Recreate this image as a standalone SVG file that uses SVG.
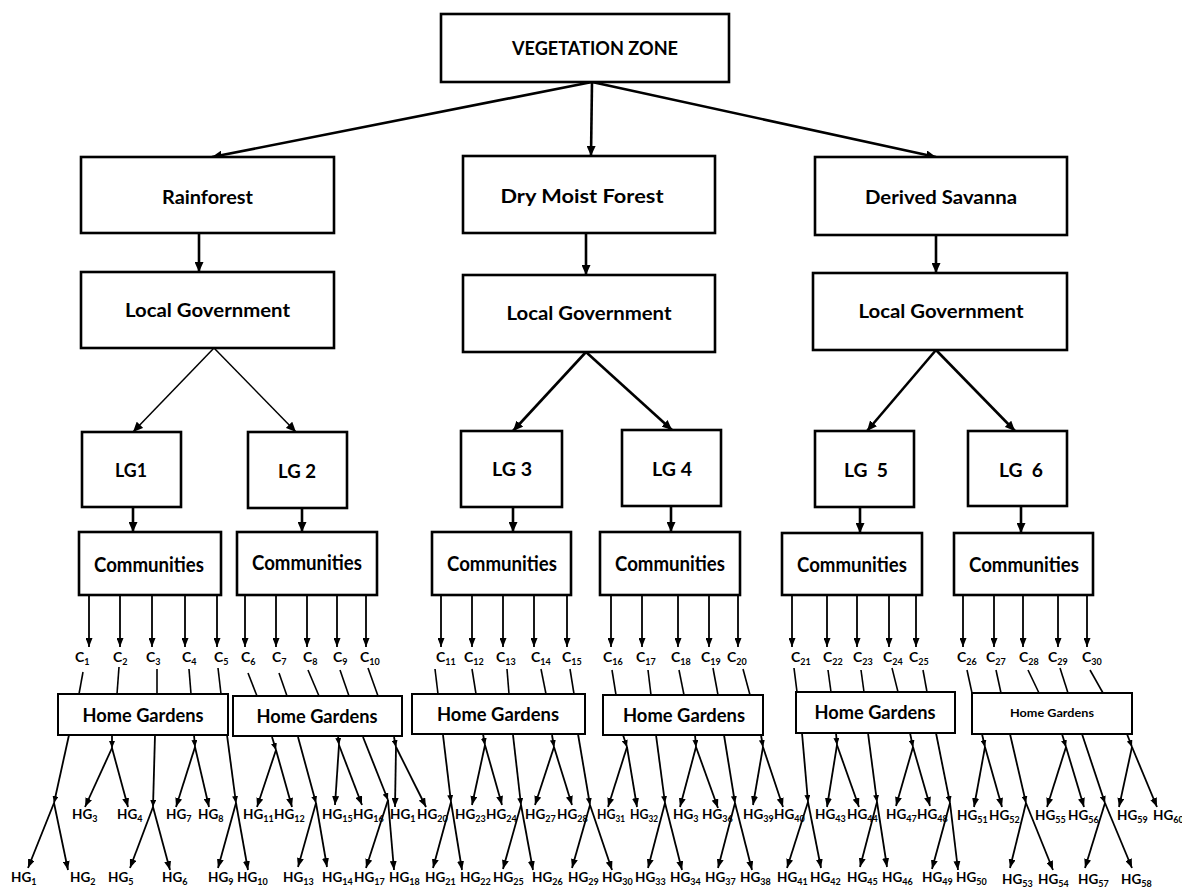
<svg xmlns="http://www.w3.org/2000/svg" width="1182" height="887" viewBox="0 0 1182 887">
<style>
rect.b{fill:#fff;stroke:#000;stroke-width:2.6}
rect.h{fill:#fff;stroke:#000;stroke-width:2}
text{font-family:Lato,"Open Sans","DejaVu Sans",sans-serif;font-weight:700;fill:#000}
.t{font-size:18px;text-anchor:middle}
.cm{font-size:20px;text-anchor:middle}
.hgb{font-size:19px;text-anchor:middle}
.lb{font-size:13.5px}
.cl{font-size:14px}
.s{font-size:9px}
line{stroke:#000;fill:none}
.k{stroke-width:2.6;marker-end:url(#ah)}
.n{stroke-width:1.5;marker-end:url(#ah)}
.a{stroke-width:1.8;marker-end:url(#as)}
.p{stroke-width:1.6}
.f{stroke-width:1.8;marker-end:url(#af)}
</style>
<defs>
<marker id="ah" markerWidth="10" markerHeight="9" refX="10" refY="4.5" orient="auto" markerUnits="userSpaceOnUse"><path d="M0,0 L10,4.5 L0,9 z" fill="#000"/></marker>
<marker id="as" markerWidth="9" markerHeight="7" refX="9" refY="3.5" orient="auto" markerUnits="userSpaceOnUse"><path d="M0,0 L9,3.5 L0,7 z" fill="#000"/></marker>
<marker id="af" markerWidth="7" markerHeight="6" refX="7" refY="3" orient="auto" markerUnits="userSpaceOnUse"><path d="M0,0 L7,3 L0,6 z" fill="#000"/></marker>
</defs>
<rect width="1182" height="887" fill="#fff"/>

<g id="connectors">
<line class="k" x1="592" y1="82" x2="212" y2="157"/>
<line class="k" x1="592" y1="82" x2="591" y2="156"/>
<line class="k" x1="592" y1="82" x2="936" y2="157"/>
<line class="k" x1="199" y1="233" x2="199" y2="272"/>
<line class="k" x1="586" y1="233" x2="586" y2="275"/>
<line class="k" x1="936" y1="235" x2="936" y2="273"/>
<line class="n" x1="214" y1="348" x2="133" y2="432"/>
<line class="n" x1="214" y1="348" x2="296" y2="432"/>
<line class="k" x1="586" y1="352" x2="513" y2="431"/>
<line class="k" x1="586" y1="352" x2="672" y2="430"/>
<line class="k" x1="936" y1="350" x2="867" y2="431"/>
<line class="k" x1="936" y1="350" x2="1015" y2="431"/>
<line class="k" x1="133" y1="507" x2="133" y2="532"/>
<line class="k" x1="302" y1="508" x2="302" y2="532"/>
<line class="k" x1="513" y1="507" x2="513" y2="532"/>
<line class="k" x1="671" y1="506" x2="671" y2="532"/>
<line class="k" x1="860" y1="507" x2="860" y2="533"/>
<line class="k" x1="1021" y1="506" x2="1021" y2="533"/>
<line class="a" x1="89" y1="596" x2="89" y2="647"/>
<line class="a" x1="120" y1="596" x2="120" y2="647"/>
<line class="a" x1="152" y1="596" x2="152" y2="647"/>
<line class="a" x1="185" y1="596" x2="185" y2="647"/>
<line class="a" x1="217" y1="596" x2="217" y2="647"/>
<line class="a" x1="245" y1="596" x2="245" y2="647"/>
<line class="a" x1="276" y1="596" x2="276" y2="647"/>
<line class="a" x1="307" y1="596" x2="307" y2="647"/>
<line class="a" x1="337" y1="596" x2="337" y2="647"/>
<line class="a" x1="366" y1="596" x2="366" y2="647"/>
<line class="a" x1="441" y1="596" x2="441" y2="647"/>
<line class="a" x1="472" y1="596" x2="472" y2="647"/>
<line class="a" x1="503" y1="596" x2="503" y2="647"/>
<line class="a" x1="534" y1="596" x2="534" y2="647"/>
<line class="a" x1="567" y1="596" x2="567" y2="647"/>
<line class="a" x1="611" y1="596" x2="611" y2="647"/>
<line class="a" x1="642" y1="596" x2="642" y2="647"/>
<line class="a" x1="678" y1="596" x2="678" y2="647"/>
<line class="a" x1="709" y1="596" x2="709" y2="647"/>
<line class="a" x1="738" y1="596" x2="738" y2="647"/>
<line class="a" x1="792" y1="596" x2="792" y2="647"/>
<line class="a" x1="827" y1="596" x2="827" y2="647"/>
<line class="a" x1="857" y1="596" x2="857" y2="647"/>
<line class="a" x1="889" y1="596" x2="889" y2="647"/>
<line class="a" x1="916" y1="596" x2="916" y2="647"/>
<line class="a" x1="963" y1="596" x2="963" y2="647"/>
<line class="a" x1="994" y1="596" x2="994" y2="647"/>
<line class="a" x1="1023" y1="596" x2="1023" y2="647"/>
<line class="a" x1="1058" y1="596" x2="1058" y2="647"/>
<line class="a" x1="1087" y1="596" x2="1087" y2="647"/>
<line class="p" x1="83" y1="672" x2="79" y2="694"/>
<line class="p" x1="119" y1="667" x2="117" y2="694"/>
<line class="p" x1="157" y1="669" x2="157" y2="694"/>
<line class="p" x1="189" y1="669" x2="191" y2="694"/>
<line class="p" x1="218" y1="668" x2="221" y2="694"/>
<line class="p" x1="248" y1="673" x2="257" y2="696"/>
<line class="p" x1="279" y1="673" x2="287" y2="696"/>
<line class="p" x1="308" y1="670" x2="319" y2="696"/>
<line class="p" x1="340" y1="670" x2="349" y2="696"/>
<line class="p" x1="368" y1="668" x2="378" y2="696"/>
<line class="p" x1="435" y1="669" x2="438" y2="694"/>
<line class="p" x1="472" y1="669" x2="476" y2="694"/>
<line class="p" x1="507" y1="669" x2="509" y2="694"/>
<line class="p" x1="541" y1="669" x2="546" y2="694"/>
<line class="p" x1="570" y1="669" x2="574" y2="694"/>
<line class="p" x1="612" y1="670" x2="616" y2="695"/>
<line class="p" x1="648" y1="670" x2="651" y2="695"/>
<line class="p" x1="679" y1="670" x2="684" y2="695"/>
<line class="p" x1="713" y1="668" x2="718" y2="695"/>
<line class="p" x1="743" y1="669" x2="750" y2="695"/>
<line class="p" x1="794" y1="668" x2="797" y2="692"/>
<line class="p" x1="828" y1="670" x2="831" y2="692"/>
<line class="p" x1="861" y1="670" x2="864" y2="692"/>
<line class="p" x1="892" y1="668" x2="898" y2="692"/>
<line class="p" x1="923" y1="670" x2="927" y2="692"/>
<line class="p" x1="967" y1="670" x2="972" y2="693"/>
<line class="p" x1="996" y1="670" x2="1001" y2="693"/>
<line class="p" x1="1028" y1="670" x2="1039" y2="693"/>
<line class="p" x1="1060" y1="668" x2="1068" y2="693"/>
<line class="p" x1="1090" y1="670" x2="1103" y2="693"/>
<line class="f" x1="69" y1="735" x2="54" y2="803"/><line class="a" x1="54" y1="803" x2="28" y2="868"/><line class="a" x1="54" y1="803" x2="68" y2="870"/>
<line class="f" x1="112" y1="735" x2="112" y2="748"/><line class="a" x1="112" y1="748" x2="85" y2="807"/><line class="a" x1="112" y1="748" x2="128" y2="807"/>
<line class="f" x1="155" y1="735" x2="153" y2="807"/><line class="a" x1="153" y1="807" x2="130" y2="868"/><line class="a" x1="153" y1="807" x2="170" y2="870"/>
<line class="f" x1="194" y1="735" x2="195" y2="747"/><line class="a" x1="195" y1="747" x2="176" y2="807"/><line class="a" x1="195" y1="747" x2="209" y2="807"/>
<line class="f" x1="227" y1="735" x2="236" y2="803"/><line class="a" x1="236" y1="803" x2="218" y2="868"/><line class="a" x1="236" y1="803" x2="248" y2="870"/>
<line class="f" x1="272" y1="737" x2="276" y2="750"/><line class="a" x1="276" y1="750" x2="257" y2="807"/><line class="a" x1="276" y1="750" x2="292" y2="807"/>
<line class="f" x1="298" y1="737" x2="316" y2="803"/><line class="a" x1="316" y1="803" x2="298" y2="867"/><line class="a" x1="316" y1="803" x2="327" y2="867"/>
<line class="f" x1="338" y1="736" x2="339" y2="745"/><line class="a" x1="339" y1="745" x2="335" y2="805"/><line class="a" x1="339" y1="745" x2="362" y2="805"/>
<line class="f" x1="363" y1="737" x2="388" y2="800"/><line class="a" x1="388" y1="800" x2="366" y2="868"/><line class="a" x1="388" y1="800" x2="394" y2="870"/>
<line class="f" x1="394" y1="737" x2="396" y2="747"/><line class="a" x1="396" y1="747" x2="395" y2="807"/><line class="a" x1="396" y1="747" x2="426" y2="807"/>
<line class="f" x1="443" y1="735" x2="451" y2="802"/><line class="a" x1="451" y1="802" x2="433" y2="868"/><line class="a" x1="451" y1="802" x2="462" y2="870"/>
<line class="f" x1="483" y1="734" x2="485" y2="745"/><line class="a" x1="485" y1="745" x2="472" y2="805"/><line class="a" x1="485" y1="745" x2="502" y2="805"/>
<line class="f" x1="513" y1="735" x2="521" y2="805"/><line class="a" x1="521" y1="805" x2="503" y2="869"/><line class="a" x1="521" y1="805" x2="533" y2="870"/>
<line class="f" x1="552" y1="735" x2="554" y2="747"/><line class="a" x1="554" y1="747" x2="535" y2="805"/><line class="a" x1="554" y1="747" x2="572" y2="805"/>
<line class="f" x1="578" y1="734" x2="590" y2="805"/><line class="a" x1="590" y1="805" x2="572" y2="868"/><line class="a" x1="590" y1="805" x2="612" y2="870"/>
<line class="f" x1="623" y1="735" x2="627" y2="747"/><line class="a" x1="627" y1="747" x2="608" y2="807"/><line class="a" x1="627" y1="747" x2="637" y2="807"/>
<line class="f" x1="656" y1="735" x2="665" y2="803"/><line class="a" x1="665" y1="803" x2="648" y2="868"/><line class="a" x1="665" y1="803" x2="682" y2="870"/>
<line class="f" x1="695" y1="735" x2="696" y2="747"/><line class="a" x1="696" y1="747" x2="680" y2="807"/><line class="a" x1="696" y1="747" x2="718" y2="808"/>
<line class="f" x1="724" y1="735" x2="735" y2="803"/><line class="a" x1="735" y1="803" x2="718" y2="868"/><line class="a" x1="735" y1="803" x2="752" y2="870"/>
<line class="f" x1="761" y1="735" x2="763" y2="747"/><line class="a" x1="763" y1="747" x2="753" y2="805"/><line class="a" x1="763" y1="747" x2="783" y2="807"/>
<line class="f" x1="802" y1="733" x2="808" y2="802"/><line class="a" x1="808" y1="802" x2="787" y2="868"/><line class="a" x1="808" y1="802" x2="821" y2="868"/>
<line class="f" x1="836" y1="733" x2="837" y2="745"/><line class="a" x1="837" y1="745" x2="827" y2="807"/><line class="a" x1="837" y1="745" x2="859" y2="807"/>
<line class="f" x1="868" y1="733" x2="877" y2="802"/><line class="a" x1="877" y1="802" x2="860" y2="867"/><line class="a" x1="877" y1="802" x2="887" y2="867"/>
<line class="f" x1="910" y1="733" x2="913" y2="747"/><line class="a" x1="913" y1="747" x2="896" y2="806"/><line class="a" x1="913" y1="747" x2="930" y2="806"/>
<line class="f" x1="936" y1="733" x2="950" y2="803"/><line class="a" x1="950" y1="803" x2="932" y2="869"/><line class="a" x1="950" y1="803" x2="958" y2="870"/>
<line class="f" x1="982" y1="734" x2="985" y2="747"/><line class="a" x1="985" y1="747" x2="974" y2="807"/><line class="a" x1="985" y1="747" x2="1002" y2="807"/>
<line class="f" x1="1010" y1="734" x2="1026" y2="803"/><line class="a" x1="1026" y1="803" x2="1010" y2="868"/><line class="a" x1="1026" y1="803" x2="1053" y2="870"/>
<line class="f" x1="1062" y1="734" x2="1066" y2="747"/><line class="a" x1="1066" y1="747" x2="1047" y2="807"/><line class="a" x1="1066" y1="747" x2="1084" y2="807"/>
<line class="f" x1="1082" y1="734" x2="1105" y2="803"/><line class="a" x1="1105" y1="803" x2="1085" y2="868"/><line class="a" x1="1105" y1="803" x2="1132" y2="868"/>
<line class="f" x1="1127" y1="734" x2="1132" y2="747"/><line class="a" x1="1132" y1="747" x2="1119" y2="807"/><line class="a" x1="1132" y1="747" x2="1157" y2="807"/>
</g>

<g id="vegetation-zone"><rect class="b" x="441" y="14" width="288" height="68"/><text class="t" x="595" y="55" textLength="166" lengthAdjust="spacingAndGlyphs">VEGETATION ZONE</text></g>
<g id="rainforest"><rect class="b" x="81" y="157" width="253" height="76"/><text class="t" x="207.5" y="204" textLength="91" lengthAdjust="spacingAndGlyphs">Rainforest</text></g>
<g id="dry-moist-forest"><rect class="b" x="463" y="156" width="252" height="77"/><text class="t" x="582" y="203" textLength="163" lengthAdjust="spacingAndGlyphs">Dry Moist Forest</text></g>
<g id="derived-savanna"><rect class="b" x="815" y="157" width="252" height="78"/><text class="t" x="941" y="204" textLength="152" lengthAdjust="spacingAndGlyphs">Derived Savanna</text></g>
<g id="lgov-rainforest"><rect class="b" x="81" y="272" width="253" height="76"/><text class="t" x="207.5" y="317" textLength="165" lengthAdjust="spacingAndGlyphs">Local Government</text></g>
<g id="lgov-dry-moist"><rect class="b" x="463" y="275" width="252" height="77"/><text class="t" x="589" y="320" textLength="165" lengthAdjust="spacingAndGlyphs">Local Government</text></g>
<g id="lgov-derived"><rect class="b" x="813" y="273" width="254" height="77"/><text class="t" x="941" y="318" textLength="165" lengthAdjust="spacingAndGlyphs">Local Government</text></g>

<g id="lg1"><rect class="b" x="82" y="432" width="99" height="75"/><text class="t" x="131" y="477" textLength="32" lengthAdjust="spacingAndGlyphs">LG1</text></g>
<g id="lg2"><rect class="b" x="248" y="432" width="99" height="76"/><text class="t" x="297" y="478" textLength="38" lengthAdjust="spacingAndGlyphs">LG 2</text></g>
<g id="lg3"><rect class="b" x="461" y="431" width="101" height="76"/><text class="t" x="512" y="476" textLength="40" lengthAdjust="spacingAndGlyphs">LG 3</text></g>
<g id="lg4"><rect class="b" x="622" y="430" width="99" height="76"/><text class="t" x="672" y="476" textLength="40" lengthAdjust="spacingAndGlyphs">LG 4</text></g>
<g id="lg5"><rect class="b" x="815" y="431" width="99" height="76"/><text class="t" x="866" y="477" textLength="44" lengthAdjust="spacingAndGlyphs" xml:space="preserve">LG  5</text></g>
<g id="lg6"><rect class="b" x="968" y="431" width="99" height="75"/><text class="t" x="1021" y="477" textLength="44" lengthAdjust="spacingAndGlyphs" xml:space="preserve">LG  6</text></g>

<g id="communities-1"><rect class="b" x="79" y="532" width="142" height="63"/><text class="cm" x="149" y="572" textLength="110" lengthAdjust="spacingAndGlyphs">Communities</text></g>
<g id="communities-2"><rect class="b" x="237" y="532" width="140" height="63"/><text class="cm" x="307" y="570" textLength="110" lengthAdjust="spacingAndGlyphs">Communities</text></g>
<g id="communities-3"><rect class="b" x="432" y="532" width="139" height="63"/><text class="cm" x="502" y="571" textLength="110" lengthAdjust="spacingAndGlyphs">Communities</text></g>
<g id="communities-4"><rect class="b" x="600" y="532" width="140" height="63"/><text class="cm" x="670" y="571" textLength="110" lengthAdjust="spacingAndGlyphs">Communities</text></g>
<g id="communities-5"><rect class="b" x="782" y="533" width="140" height="62"/><text class="cm" x="852" y="572" textLength="110" lengthAdjust="spacingAndGlyphs">Communities</text></g>
<g id="communities-6"><rect class="b" x="954" y="533" width="139" height="62"/><text class="cm" x="1024" y="572" textLength="110" lengthAdjust="spacingAndGlyphs">Communities</text></g>

<g id="c-labels">
<text class="cl" x="75" y="662">C<tspan class="s" dy="3">1</tspan></text>
<text class="cl" x="113" y="662">C<tspan class="s" dy="3">2</tspan></text>
<text class="cl" x="146" y="662">C<tspan class="s" dy="3">3</tspan></text>
<text class="cl" x="182" y="662">C<tspan class="s" dy="3">4</tspan></text>
<text class="cl" x="214" y="662">C<tspan class="s" dy="3">5</tspan></text>
<text class="cl" x="241" y="662">C<tspan class="s" dy="3">6</tspan></text>
<text class="cl" x="272" y="662">C<tspan class="s" dy="3">7</tspan></text>
<text class="cl" x="303" y="662">C<tspan class="s" dy="3">8</tspan></text>
<text class="cl" x="333" y="662">C<tspan class="s" dy="3">9</tspan></text>
<text class="cl" x="360" y="662">C<tspan class="s" dy="3">10</tspan></text>
<text class="cl" x="436" y="662">C<tspan class="s" dy="3">11</tspan></text>
<text class="cl" x="464" y="662">C<tspan class="s" dy="3">12</tspan></text>
<text class="cl" x="496" y="662">C<tspan class="s" dy="3">13</tspan></text>
<text class="cl" x="531" y="662">C<tspan class="s" dy="3">14</tspan></text>
<text class="cl" x="562" y="662">C<tspan class="s" dy="3">15</tspan></text>
<text class="cl" x="603" y="662">C<tspan class="s" dy="3">16</tspan></text>
<text class="cl" x="636" y="662">C<tspan class="s" dy="3">17</tspan></text>
<text class="cl" x="671" y="662">C<tspan class="s" dy="3">18</tspan></text>
<text class="cl" x="701" y="662">C<tspan class="s" dy="3">19</tspan></text>
<text class="cl" x="727" y="662">C<tspan class="s" dy="3">20</tspan></text>
<text class="cl" x="791" y="662">C<tspan class="s" dy="3">21</tspan></text>
<text class="cl" x="823" y="662">C<tspan class="s" dy="3">22</tspan></text>
<text class="cl" x="853" y="662">C<tspan class="s" dy="3">23</tspan></text>
<text class="cl" x="883" y="662">C<tspan class="s" dy="3">24</tspan></text>
<text class="cl" x="909" y="662">C<tspan class="s" dy="3">25</tspan></text>
<text class="cl" x="957" y="662">C<tspan class="s" dy="3">26</tspan></text>
<text class="cl" x="986" y="662">C<tspan class="s" dy="3">27</tspan></text>
<text class="cl" x="1019" y="662">C<tspan class="s" dy="3">28</tspan></text>
<text class="cl" x="1048" y="662">C<tspan class="s" dy="3">29</tspan></text>
<text class="cl" x="1082" y="662">C<tspan class="s" dy="3">30</tspan></text>
</g>

<g id="home-gardens-1"><rect class="h" x="58" y="694" width="170" height="41"/><text class="hgb" x="143" y="722" textLength="121" lengthAdjust="spacingAndGlyphs">Home Gardens</text></g>
<g id="home-gardens-2"><rect class="h" x="233" y="696" width="169" height="40"/><text class="hgb" x="317" y="723" textLength="121" lengthAdjust="spacingAndGlyphs">Home Gardens</text></g>
<g id="home-gardens-3"><rect class="h" x="412" y="694" width="173" height="40"/><text class="hgb" x="498" y="721" textLength="122" lengthAdjust="spacingAndGlyphs">Home Gardens</text></g>
<g id="home-gardens-4"><rect class="h" x="603" y="695" width="160" height="40"/><text class="hgb" x="684" y="722" textLength="122" lengthAdjust="spacingAndGlyphs">Home Gardens</text></g>
<g id="home-gardens-5"><rect class="h" x="796" y="692" width="159" height="41"/><text class="hgb" x="875" y="719" textLength="121" lengthAdjust="spacingAndGlyphs">Home Gardens</text></g>
<g id="home-gardens-6"><rect class="h" x="972" y="693" width="160" height="41"/><text x="1052" y="717" font-size="12" text-anchor="middle" textLength="84" lengthAdjust="spacingAndGlyphs">Home Gardens</text></g>

<g id="hg-labels">
<text class="lb" x="72" y="819">HG<tspan class="s" dy="3">3</tspan></text>
<text class="lb" x="117" y="819">HG<tspan class="s" dy="3">4</tspan></text>
<text class="lb" x="166" y="819">HG<tspan class="s" dy="3">7</tspan></text>
<text class="lb" x="198" y="819">HG<tspan class="s" dy="3">8</tspan></text>
<text class="lb" x="243" y="819">HG<tspan class="s" dy="3">11</tspan></text>
<text class="lb" x="274" y="819">HG<tspan class="s" dy="3">12</tspan></text>
<text class="lb" x="322" y="819">HG<tspan class="s" dy="3">15</tspan></text>
<text class="lb" x="353" y="819">HG<tspan class="s" dy="3">16</tspan></text>
<text class="lb" x="390" y="819">HG<tspan class="s" dy="3">1</tspan></text>
<text class="lb" x="417" y="819">HG<tspan class="s" dy="3">20</tspan></text>
<text class="lb" x="455" y="819">HG<tspan class="s" dy="3">23</tspan></text>
<text class="lb" x="486" y="819">HG<tspan class="s" dy="3">24</tspan></text>
<text class="lb" x="525" y="819">HG<tspan class="s" dy="3">27</tspan></text>
<text class="lb" x="557" y="819">HG<tspan class="s" dy="3">28</tspan></text>
<text class="lb" x="597" y="819" textLength="28" lengthAdjust="spacingAndGlyphs">HG<tspan class="s" dy="3">31</tspan></text>
<text class="lb" x="630" y="819" textLength="28" lengthAdjust="spacingAndGlyphs">HG<tspan class="s" dy="3">32</tspan></text>
<text class="lb" x="673" y="819">HG<tspan class="s" dy="3">3</tspan></text>
<text class="lb" x="702" y="819">HG<tspan class="s" dy="3">36</tspan></text>
<text class="lb" x="743" y="819">HG<tspan class="s" dy="3">39</tspan></text>
<text class="lb" x="774" y="819">HG<tspan class="s" dy="3">40</tspan></text>
<text class="lb" x="815" y="819">HG<tspan class="s" dy="3">43</tspan></text>
<text class="lb" x="847" y="819">HG<tspan class="s" dy="3">44</tspan></text>
<text class="lb" x="886" y="819">HG<tspan class="s" dy="3">47</tspan></text>
<text class="lb" x="917" y="819">HG<tspan class="s" dy="3">48</tspan></text>
<text class="lb" x="957" y="820">HG<tspan class="s" dy="3">51</tspan></text>
<text class="lb" x="989" y="820">HG<tspan class="s" dy="3">52</tspan></text>
<text class="lb" x="1035" y="820">HG<tspan class="s" dy="3">55</tspan></text>
<text class="lb" x="1068" y="820">HG<tspan class="s" dy="3">56</tspan></text>
<text class="lb" x="1117" y="820">HG<tspan class="s" dy="3">59</tspan></text>
<text class="lb" x="1153" y="820">HG<tspan class="s" dy="3">60</tspan></text>
<text class="lb" x="11" y="882">HG<tspan class="s" dy="3">1</tspan></text>
<text class="lb" x="70" y="882">HG<tspan class="s" dy="3">2</tspan></text>
<text class="lb" x="108" y="882">HG<tspan class="s" dy="3">5</tspan></text>
<text class="lb" x="162" y="882">HG<tspan class="s" dy="3">6</tspan></text>
<text class="lb" x="208" y="882">HG<tspan class="s" dy="3">9</tspan></text>
<text class="lb" x="237" y="882">HG<tspan class="s" dy="3">10</tspan></text>
<text class="lb" x="283" y="882">HG<tspan class="s" dy="3">13</tspan></text>
<text class="lb" x="322" y="882">HG<tspan class="s" dy="3">14</tspan></text>
<text class="lb" x="354" y="882">HG<tspan class="s" dy="3">17</tspan></text>
<text class="lb" x="389" y="882">HG<tspan class="s" dy="3">18</tspan></text>
<text class="lb" x="425" y="882">HG<tspan class="s" dy="3">21</tspan></text>
<text class="lb" x="460" y="882">HG<tspan class="s" dy="3">22</tspan></text>
<text class="lb" x="493" y="882">HG<tspan class="s" dy="3">25</tspan></text>
<text class="lb" x="532" y="882">HG<tspan class="s" dy="3">26</tspan></text>
<text class="lb" x="568" y="882">HG<tspan class="s" dy="3">29</tspan></text>
<text class="lb" x="602" y="882">HG<tspan class="s" dy="3">30</tspan></text>
<text class="lb" x="635" y="882">HG<tspan class="s" dy="3">33</tspan></text>
<text class="lb" x="670" y="882">HG<tspan class="s" dy="3">34</tspan></text>
<text class="lb" x="705" y="882">HG<tspan class="s" dy="3">37</tspan></text>
<text class="lb" x="740" y="882">HG<tspan class="s" dy="3">38</tspan></text>
<text class="lb" x="777" y="882">HG<tspan class="s" dy="3">41</tspan></text>
<text class="lb" x="810" y="882">HG<tspan class="s" dy="3">42</tspan></text>
<text class="lb" x="847" y="882">HG<tspan class="s" dy="3">45</tspan></text>
<text class="lb" x="882" y="882">HG<tspan class="s" dy="3">46</tspan></text>
<text class="lb" x="922" y="882">HG<tspan class="s" dy="3">49</tspan></text>
<text class="lb" x="956" y="882">HG<tspan class="s" dy="3">50</tspan></text>
<text class="lb" x="1002" y="884" font-size="14.5">HG<tspan class="s" dy="3">53</tspan></text>
<text class="lb" x="1038" y="884" font-size="14.5">HG<tspan class="s" dy="3">54</tspan></text>
<text class="lb" x="1078" y="884" font-size="14.5">HG<tspan class="s" dy="3">57</tspan></text>
<text class="lb" x="1121" y="884" font-size="14.5">HG<tspan class="s" dy="3">58</tspan></text>
</g>
</svg>
